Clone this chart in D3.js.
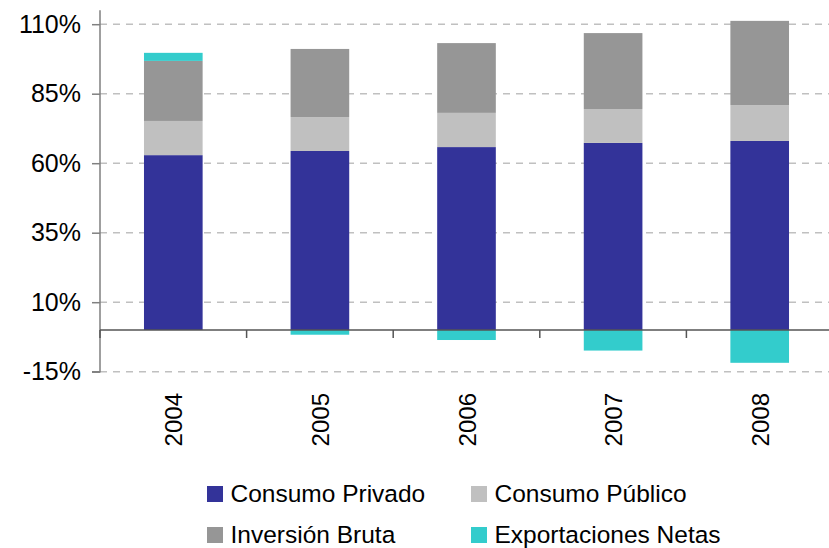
<!DOCTYPE html>
<html lang="es">
<head>
  <meta charset="UTF-8">
  <title>Composición del PIB</title>
  <script src="https://d3js.org/d3.v7.min.js"></script>
  <style>
    html, body {
      margin: 0;
      background: #fff;
    }
    svg {
      display: block;
    }
    text {
      font-family: "Liberation Sans", Arial, sans-serif;
      fill: #000;
    }
    .grid line {
      stroke: #c0c0c0;
      stroke-width: 1.5;
      stroke-dasharray: 7 6;
    }
  </style>
</head>
<body>
  <svg width="829" height="548"></svg>
  <script>
    // data (% of GDP)
    const years = ["2004", "2005", "2006", "2007", "2008"];
    const consumoPrivado = [62.9, 64.4, 65.8, 67.3, 68.0];
    const consumoPublico = [12.3, 12.2, 12.3, 12.2, 12.9];
    const inversionBruta = [21.6, 24.5, 25.1, 27.3, 30.3];
    const exportacionesNetas = [2.9, -1.7, -3.6, -7.4, -11.8];
    const yTicks = [-15, 10, 35, 60, 85, 110];

    const seriesNames = ["Consumo Privado", "Consumo Público", "Inversión Bruta", "Exportaciones Netas"];
    const colors = ["#333399", "#c0c0c0", "#969696", "#33cccc"];

    const rows = years.map((y, i) => ({
      year: y,
      "Consumo Privado": consumoPrivado[i],
      "Consumo Público": consumoPublico[i],
      "Inversión Bruta": inversionBruta[i],
      "Exportaciones Netas": exportacionesNetas[i]
    }));

    const svg = d3.select("svg");

    const x = d3.scaleBand().domain(years).range([100, 833]).padding(0);
    const y = d3.scaleLinear().domain([-15, 115]).range([371.7, 10.3]);
    const barW = x.bandwidth() * 0.4;

    // dashed gridlines
    svg.append("g")
      .attr("class", "grid")
      .selectAll("line")
      .data(yTicks)
      .enter().append("line")
      .attr("x1", 100)
      .attr("x2", 829)
      .attr("y1", d => y(d))
      .attr("y2", d => y(d));

    // stacked bars
    const stack = d3.stack()
      .keys(seriesNames)
      .offset(d3.stackOffsetDiverging);
    const stacked = stack(rows);

    svg.append("g")
      .selectAll("g")
      .data(stacked)
      .enter().append("g")
      .attr("fill", (d, i) => colors[i])
      .selectAll("rect")
      .data(d => d)
      .enter().append("rect")
      .attr("x", d => x(d.data.year) + x.bandwidth() / 2 - barW / 2)
      .attr("width", barW)
      .attr("y", d => y(Math.max(d[0], d[1])))
      .attr("height", d => Math.abs(y(d[0]) - y(d[1])));

    // y axis
    const yAxis = svg.append("g")
      .attr("transform", "translate(100,0)")
      .call(d3.axisLeft(y).tickValues(yTicks).tickSize(8).tickPadding(11).tickFormat(d => d + "%"));
    yAxis.select(".domain").attr("stroke", "#808080").attr("stroke-width", 1.5)
      .attr("d", `M-8,${y(-15)}H0V${y(115)}`);
    yAxis.selectAll(".tick line").attr("stroke", "#808080").attr("stroke-width", 1.5);
    yAxis.selectAll(".tick text")
      .attr("font-size", 25)
      .attr("fill", "#111");

    // x axis at zero
    const xAxis = svg.append("g")
      .attr("transform", `translate(0,${y(0)})`);
    xAxis.append("line")
      .attr("x1", 100).attr("x2", 829)
      .attr("stroke", "#555").attr("stroke-width", 1.5);
    xAxis.selectAll("line.tk")
      .data(years.slice(1))
      .enter().append("line")
      .attr("class", "tk")
      .attr("x1", d => x(d)).attr("x2", d => x(d))
      .attr("y1", 0).attr("y2", 8)
      .attr("stroke", "#555").attr("stroke-width", 1.5);
    xAxis.append("line")
      .attr("x1", 100).attr("x2", 100)
      .attr("y1", 0).attr("y2", 8)
      .attr("stroke", "#555").attr("stroke-width", 1.5);

    // year labels, rotated
    svg.append("g")
      .selectAll("text")
      .data(years)
      .enter().append("text")
      .attr("transform", d => `translate(${x(d) + x.bandwidth() / 2 + 9},393) rotate(-90)`)
      .attr("text-anchor", "end")
      .attr("font-size", 24)
      .attr("fill", "#111")
      .text(d => d);

    // legend
    const legendPos = [[207, 502], [471, 502], [207, 543], [471, 543]];
    const legend = svg.append("g")
      .selectAll("g")
      .data(seriesNames)
      .enter().append("g")
      .attr("transform", (d, i) => `translate(${legendPos[i][0]},${legendPos[i][1]})`);
    legend.append("rect")
      .attr("x", 0).attr("y", -16)
      .attr("width", 16).attr("height", 16)
      .attr("fill", (d, i) => colors[i]);
    legend.append("text")
      .attr("x", 23.5)
      .attr("y", 0)
      .attr("font-size", 24.5)
      .attr("fill", "#111")
      .text(d => d);
  </script>
</body>
</html>
